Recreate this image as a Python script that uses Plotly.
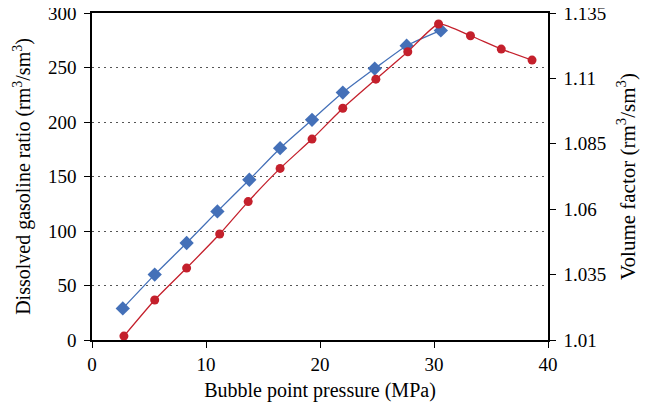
import plotly.graph_objects as go

# Dissolved gasoline ratio (left axis)
p_rs = [2.7, 5.5, 8.3, 11.0, 13.8, 16.5, 19.3, 22.0, 24.8, 27.6, 30.6]
rs = [29, 60, 89, 118, 147, 176, 202, 227, 249, 270, 284]

# Volume factor (right axis)
p_bo = [2.8, 5.5, 8.3, 11.2, 13.7, 16.5, 19.3, 22.0, 24.9, 27.7, 30.4, 33.2, 35.9, 38.6]
bo = [1.0115, 1.0253, 1.0375, 1.0505, 1.0629, 1.0756, 1.0868, 1.0986, 1.1097,
      1.1202, 1.1308, 1.1263, 1.1212, 1.1170]

x_ticks = [0, 10, 20, 30, 40]
y_ticks = [0, 50, 100, 150, 200, 250, 300]
y2_ticks = [1.01, 1.035, 1.06, 1.085, 1.11, 1.135]
y2_labels = ["1.01", "1.035", "1.06", "1.085", "1.11", "1.135"]

BLUE = "#4470B8"
RED = "#C4202C"
FONT = "Liberation Serif"

fig = go.Figure()
fig.add_trace(go.Scatter(
    x=p_rs, y=rs, mode="lines+markers", line=dict(color=BLUE, width=1.3, shape="spline", smoothing=0.5),
    marker=dict(symbol="diamond", size=11, color=BLUE), yaxis="y", showlegend=False))
fig.add_trace(go.Scatter(
    x=p_bo, y=bo, mode="lines+markers", line=dict(color=RED, width=1.3, shape="spline", smoothing=0.5),
    marker=dict(symbol="circle", size=9, color=RED), yaxis="y2", showlegend=False))

axis_common = dict(showline=True, linecolor="black", linewidth=1.5, ticks="outside",
                   ticklen=6, tickcolor="black", tickwidth=1.3, automargin=False,
                   ticklabeloverflow="allow",
                   tickfont=dict(family=FONT, size=19, color="black"), zeroline=False)

fig.update_layout(
    width=663, height=412,
    margin=dict(l=84, r=123, t=5, b=80),
    paper_bgcolor="white", plot_bgcolor="white",
    font=dict(family=FONT, size=18, color="black"),
    xaxis=dict(range=[0, 40], tickvals=x_ticks, showgrid=False, mirror=True,
               title=dict(text="Bubble point pressure (MPa)", font=dict(family=FONT, size=20), standoff=9),
               **axis_common),
    yaxis=dict(range=[0, 300], tickvals=y_ticks, showgrid=True, gridcolor="#555555",
               griddash="1.5px,4.5px", gridwidth=1, ticklabelstandoff=4,
               title=dict(text="Dissolved gasoline ratio (rm<sup>3</sup>/sm<sup>3</sup>)",
                          font=dict(family=FONT, size=20), standoff=12),
               **axis_common),
    yaxis2=dict(range=[1.01, 1.135], tickvals=y2_ticks, ticktext=y2_labels, overlaying="y",
                side="right", showgrid=False, ticklabelstandoff=4,
                title=dict(text="Volume factor (rm<sup>3</sup>/sm<sup>3</sup>)",
                           font=dict(family=FONT, size=21), standoff=15),
                **axis_common),
)

fig.write_html("out.html")
